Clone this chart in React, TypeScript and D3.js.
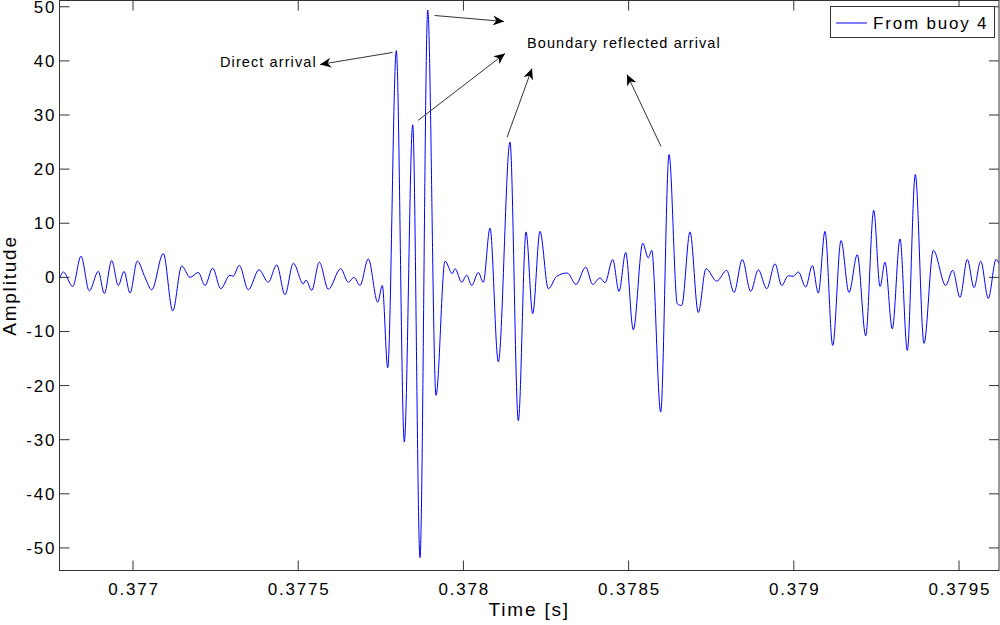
import React from 'react';
import * as d3 from 'd3';

// signal: extrema of the trace (time in s, amplitude)
const times: number[] = [
  0.3767775, 0.376789, 0.3768175, 0.3768426, 0.3768677, 0.376895, 0.3769131, 0.3769355,
  0.3769555, 0.3769728, 0.3769909, 0.377013, 0.3770363, 0.3770566, 0.3770917, 0.3771202,
  0.3771474, 0.3771725, 0.3771976, 0.3772179, 0.3772412, 0.3772654, 0.3772936, 0.3773027,
  0.3773217, 0.377349, 0.3773814, 0.3774095, 0.3774349, 0.37746, 0.3774852, 0.3775154,
  0.3775236, 0.3775409, 0.3775639, 0.3775911, 0.3776286, 0.3776516, 0.3776689, 0.377687,
  0.3777122, 0.3777406, 0.3777545, 0.3777709, 0.3777969, 0.3778211, 0.3778465, 0.3778686,
  0.377892, 0.3779171, 0.3779443, 0.3779664, 0.3779746, 0.3779948, 0.37801, 0.3780251,
  0.3780451, 0.3780602, 0.3780805, 0.3781056, 0.378141, 0.3781662, 0.3781895, 0.3782097,
  0.3782318, 0.378257, 0.3782824, 0.3783145, 0.3783408, 0.3783701, 0.3783913, 0.3784134,
  0.3784286, 0.3784519, 0.3784709, 0.3784912, 0.3785142, 0.3785427, 0.3785596, 0.3785699,
  0.3785971, 0.3786223, 0.3786474, 0.3786607, 0.3786858, 0.3787109, 0.3787342, 0.3787666,
  0.3787969, 0.378819, 0.3788441, 0.3788695, 0.3788925, 0.378918, 0.3789431, 0.3789633,
  0.3789833, 0.3789985, 0.3790136, 0.379036, 0.379056, 0.3790741, 0.3790944, 0.3791177,
  0.3791428, 0.379167, 0.3791922, 0.3792176, 0.3792418, 0.3792609, 0.379276, 0.3792981,
  0.3793214, 0.3793435, 0.3793677, 0.379394, 0.3794222, 0.3794597, 0.3794809, 0.379503,
  0.3795251, 0.3795454, 0.3795656, 0.3795887, 0.379612, 0.379621,
];
const amps: number[] = [
  -0.3, 1.0, -1.7, 3.9, -2.5, 1.1, -3.0, 3.1,
  -1.5, 1.1, -2.9, 3.0, 0.0, -2.3, 4.4, -6.2,
  2.1, 0.0, 0.9, -1.5, 1.7, -2.1, 0.4, 0.2,
  2.2, -2.3, 1.4, -0.9, 2.3, -3.2, 2.6, -1.2,
  -0.5, -2.4, 2.8, -2.2, 1.6, -0.9, 0.0, -1.5,
  3.4, -4.6, -1.5, -16.7, 41.9, -30.4, 28.2, -51.8,
  49.4, -21.8, 3.0, 0.7, 1.6, -0.9, 0.4, -1.5,
  0.9, -0.9, 9.1, -15.6, 25.0, -26.5, 8.4, -6.7,
  8.5, -2.1, 0.2, 0.8, -1.3, 1.9, -1.3, -0.1,
  -1.0, 3.3, -2.6, 4.6, -9.7, 6.3, 3.6, 5.0,
  -24.9, 22.7, -4.9, -5.2, 8.4, -6.5, 1.6, -0.7,
  1.3, -2.8, 3.3, -2.6, 1.4, -2.1, 2.5, -1.5,
  0.3, 0.2, 1.0, -1.8, 2.2, -2.9, 8.5, -12.6,
  6.8, -2.8, 4.2, -10.8, 12.4, -1.7, 2.8, -9.5,
  7.1, -13.5, 19.0, -12.2, 5.0, -1.5, 1.3, -3.7,
  3.3, -1.9, 3.0, -3.9, 3.3, 2.6,
];

const xTicks = [0.377, 0.3775, 0.378, 0.3785, 0.379, 0.3795];
const yTicks = [-50, -40, -30, -20, -10, 0, 10, 20, 30, 40, 50];
const xDomain: [number, number] = [0.3767775, 0.379621];
const yDomain: [number, number] = [-54.17, 51.16];

const seriesName = 'From buoy 4';

// annotation arrows: [fromT, fromA, toT, toA]
const arrows: number[][] = [
  [0.3777854, 41.56, 0.377566, 39.34],
  [0.3779125, 48.39, 0.3781229, 47.28],
  [0.3778626, 29.0, 0.3781259, 41.37],
  [0.3781319, 25.86, 0.3782076, 38.6],
  [0.378598, 24.2, 0.3784951, 37.5],
];
const notes = [
  { text: 'Direct arrival', t: 0.3772633, a: 39.9 },
  { text: 'Boundary reflected arrival', t: 0.3781925, a: 43.4 },
];

const W = 1000, H = 625;
const margin = { left: 59.5, right: 1, top: 0.5, bottom: 54.5 };
const font = '"Liberation Sans", Arial, Helvetica, sans-serif';
const axisColor = '#333333';

export default function App() {
  const x = d3.scaleLinear().domain(xDomain).range([margin.left, W - margin.right]);
  const y = d3.scaleLinear().domain(yDomain).range([H - margin.bottom, margin.top]);
  const pts: [number, number][] = times.map((t, i) => [t, amps[i]]);
  const line = d3.line<[number, number]>()
    .x(d => x(d[0]))
    .y(d => y(d[1]))
    .curve(d3.curveMonotoneX);

  const x0 = margin.left, x1 = W - margin.right;
  const y0 = margin.top, y1 = H - margin.bottom;
  const tl = 10;
  const ls = 1.8; // the original renders text with loose spacing

  return (
    <div style={{ position: 'absolute', left: 0, top: 0 }}>
      <svg width={W} height={H} style={{ display: 'block', background: '#fff' }}>
        <defs>
          <marker id="ah" viewBox="0 0 10 10" refX="10" refY="5" markerWidth="11" markerHeight="11"
            markerUnits="userSpaceOnUse" orient="auto">
            <path d="M0,0.5 L10,5 L0,9.5 L3,5 Z" fill="#000" />
          </marker>
          <clipPath id="clip">
            <rect x={x0} y={y0} width={x1 - x0} height={y1 - y0} />
          </clipPath>
        </defs>

        {/* ticks on all four sides, pointing inward */}
        {xTicks.map((t, i) => (
          <g key={'xt' + i}>
            <line x1={x(t)} x2={x(t)} y1={y1} y2={y1 - tl} stroke={axisColor} />
            <line x1={x(t)} x2={x(t)} y1={y0} y2={y0 + tl} stroke={axisColor} />
            <text x={x(t) + ls / 2} y={y1 + 24} textAnchor="middle" fontFamily={font} fontSize={17}
              letterSpacing={ls} fill="#000">
              {String(+t.toFixed(4))}
            </text>
          </g>
        ))}
        {yTicks.map((v, i) => (
          <g key={'yt' + i}>
            <line x1={x0} x2={x0 + tl} y1={y(v)} y2={y(v)} stroke={axisColor} />
            <line x1={x1} x2={x1 - tl} y1={y(v)} y2={y(v)} stroke={axisColor} />
            <text x={x0 - 5 + ls} y={y(v)} dy="0.35em" textAnchor="end" fontFamily={font} fontSize={17}
              letterSpacing={ls} fill="#000">
              {v}
            </text>
          </g>
        ))}

        <path d={line(pts) || ''} fill="none" stroke="#0000ff" strokeWidth={1} clipPath="url(#clip)" />

        <rect x={x0} y={y0} width={x1 - x0} height={y1 - y0} fill="none" stroke={axisColor} />

        <text x={(x0 + x1) / 2} y={H - 9} textAnchor="middle" fontFamily={font} fontSize={19}
          letterSpacing={ls} fill="#000">Time [s]</text>
        <text transform={`translate(16,${(y0 + y1) / 2}) rotate(-90)`} textAnchor="middle" fontFamily={font}
          fontSize={19} letterSpacing={ls} fill="#000">Amplitude</text>

        {arrows.map((a, i) => (
          <line key={'ar' + i} x1={x(a[0])} y1={y(a[1])} x2={x(a[2])} y2={y(a[3])}
            stroke="#333" strokeWidth={1} markerEnd="url(#ah)" />
        ))}
        {notes.map((n, i) => (
          <text key={'n' + i} x={x(n.t)} y={y(n.a)} dy="0.35em" fontFamily={font} fontSize={14.5}
            letterSpacing={1.1} fill="#000">{n.text}</text>
        ))}

        {/* legend */}
        <g>
          <rect x={830.5} y={6.5} width={164} height={31} fill="#fff" stroke={axisColor} />
          <line x1={836} x2={867} y1={23} y2={23} stroke="#0000ff" />
          <text x={873} y={23} dy="0.35em" fontFamily={font} fontSize={17} letterSpacing={ls} fill="#000">{seriesName}</text>
        </g>
      </svg>
    </div>
  );
}
